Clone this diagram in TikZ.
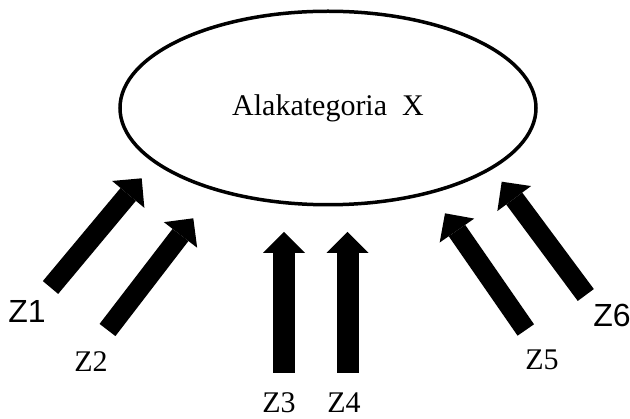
\documentclass[tikz,border=0pt]{standalone}
\usepackage{fontspec}
\setmainfont{Liberation Serif}
\newfontfamily\labelsans{Liberation Sans}
\usetikzlibrary{arrows.meta,shapes.geometric}
\begin{document}
\begin{tikzpicture}[x=1pt,y=-1pt,
  fatarrow/.style={line width=#1, -{Triangle[width=42pt,length=21pt,line width=0pt]}},
  fatarrow/.default=20pt,
  cat/.style={ellipse, draw, line width=3.5pt, minimum width=416pt, minimum height=193.5pt, inner sep=0pt, font=\fontsize{30}{30}\selectfont},
  serlabel/.style={inner sep=0pt, font=\fontsize{30}{30}\selectfont},
  sanslabel/.style={inner sep=0pt, font=\labelsans\fontsize{32}{32}\selectfont}]
\useasboundingbox (0,0) rectangle (630,419);

% the subcategory
\node[cat] (X) at (328,108) {Alakategoria\ \ X};

% labels of the incoming items
\node[sanslabel] (z1) at (27,311) {Z1};
\node[serlabel]  (z2) at (91,362) {Z2};
\node[serlabel]  (z3) at (279,403) {Z3};
\node[serlabel]  (z4) at (344,403) {Z4};
\node[serlabel]  (z5) at (542,360) {Z5};
\node[sanslabel] (z6) at (612,315) {Z6};

% tails and tips of the thick arrows
\coordinate (t1) at (50.5,287.5);  \coordinate (h1) at (141.7,178.3);
\coordinate (t2) at (107.5,330);   \coordinate (h2) at (193.3,218.3);
\coordinate (t3) at (284,373);     \coordinate (h3) at (284,232);
\coordinate (t4) at (347.5,373);   \coordinate (h4) at (347.5,232);
\coordinate (t5) at (525.8,330);   \coordinate (h5) at (445,213.3);
\coordinate (t6) at (585.8,295);   \coordinate (h6) at (501.7,181.7);

\draw[fatarrow] (t1) -- (h1);
\draw[fatarrow] (t2) -- (h2);
\draw[fatarrow=22pt] (t3) -- (h3);
\draw[fatarrow=22pt] (t4) -- (h4);
\draw[fatarrow] (t5) -- (h5);
\draw[fatarrow] (t6) -- (h6);
\end{tikzpicture}
\end{document}
